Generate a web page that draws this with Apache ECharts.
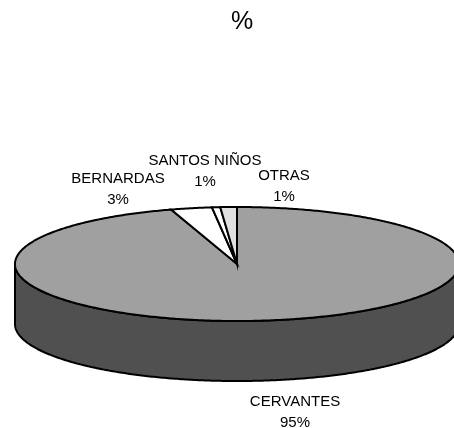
<!DOCTYPE html>
<html>
<head>
<meta charset="utf-8">
<style>html,body{margin:0;padding:0;background:#fff}#c{width:454px;height:428px}</style>
<script src="https://cdn.jsdelivr.net/npm/echarts@6/dist/echarts.min.js"></script>
</head>
<body>
<div id="c"></div>
<script>
// ---- data ----
const categories = ['CERVANTES', 'BERNARDAS', 'SANTOS NIÑOS', 'OTRAS'];
const values = [95.2, 3.0, 0.6, 1.2];
const titleText = '%';

// ---- layout / style ----
const topColors = ['#a0a0a0', '#ffffff', '#ffffff', '#e0e0e0'];
const sideColors = ['#505050', '#c0c0c0', '#c0c0c0', '#a8a8a8'];
const pie = { cx: 237, cy: 264, rx: 222, ry: 57, depth: 60 };
const labelAnchors = [[295, 391], [118, 168], [205, 150], [284, 165]];
const labelFont = '15px "Liberation Sans", Arial, sans-serif';

const total = values.reduce((a, b) => a + b, 0);
const cum = [0];
values.forEach(v => cum.push(cum[cum.length - 1] + v));

function pt(a, dy) {
  return [pie.cx + pie.rx * Math.sin(a), pie.cy - pie.ry * Math.cos(a) + (dy || 0)];
}
function arc(a0, a1, dy) {
  const n = Math.max(2, Math.ceil(Math.abs(a1 - a0) / 0.01));
  const out = [];
  for (let k = 0; k <= n; k++) out.push(pt(a0 + (a1 - a0) * k / n, dy));
  return out;
}

function renderItem(params, api) {
  const i = params.dataIndex;
  const v = api.value(0);
  const a0 = cum[i] / total * Math.PI * 2;
  const a1 = a0 + v / total * Math.PI * 2;
  const children = [];
  // side (front-facing part only: angles between 90° and 270°)
  const s0 = Math.max(a0, Math.PI / 2), s1 = Math.min(a1, Math.PI * 1.5);
  if (s1 > s0) {
    const upper = arc(s0, s1, 0);
    const lower = arc(s1, s0, pie.depth);
    children.push({
      type: 'polygon',
      shape: { points: upper.concat(lower) },
      style: { fill: sideColors[i], stroke: '#000', lineWidth: 2, lineJoin: 'round' }
    });
  }
  // top face
  children.push({
    type: 'polygon',
    shape: { points: [[pie.cx, pie.cy]].concat(arc(a0, a1, 0)) },
    style: { fill: topColors[i], stroke: '#000', lineWidth: 2, lineJoin: 'miter' }
  });
  // label
  const pct = Math.round(v / total * 100);
  children.push({
    type: 'text',
    x: labelAnchors[i][0],
    y: labelAnchors[i][1],
    style: {
      text: categories[i] + '\n' + pct + '%',
      align: 'center',
      verticalAlign: 'top',
      font: labelFont,
      lineHeight: 21,
      fill: '#000'
    }
  });
  return { type: 'group', children: children };
}

const chart = echarts.init(document.getElementById('c'), null, { renderer: 'canvas' });
chart.setOption({
  animation: false,
  backgroundColor: '#ffffff',
  title: {
    text: titleText,
    left: 237,
    textAlign: 'center',
    top: 5,
    textStyle: { fontSize: 25, fontWeight: 'normal', color: '#000', fontFamily: '"Liberation Sans", Arial, sans-serif' }
  },
  series: [{
    type: 'custom',
    coordinateSystem: 'none',
    renderItem: renderItem,
    data: values.map((v, i) => ({ name: categories[i], value: [v] }))
  }]
});
</script>
</body>
</html>
